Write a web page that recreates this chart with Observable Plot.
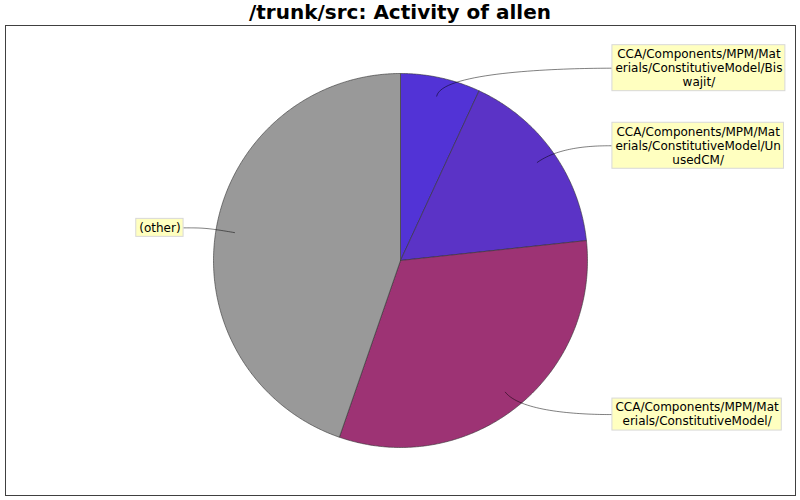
<!DOCTYPE html>
<html><head><meta charset="utf-8">
<script src="https://cdn.jsdelivr.net/npm/d3@7"></script>
<script src="https://cdn.jsdelivr.net/npm/@observablehq/plot@0.6"></script>
<style>
body{margin:0;background:#fff;}
#title{width:800px;height:22px;box-sizing:border-box;padding-top:2px;font:bold 20px "DejaVu Sans";line-height:20px;text-align:center;white-space:nowrap;color:#000;}
</style></head><body>
<div id="title">/trunk/src: Activity of allen</div>
<div id="chart"></div>
<script>
// Data
const categories = [
  "CCA/Components/MPM/Materials/ConstitutiveModel/Biswajit/",
  "CCA/Components/MPM/Materials/ConstitutiveModel/UnusedCM/",
  "CCA/Components/MPM/Materials/ConstitutiveModel/",
  "(other)"
];
const values = [6.9, 16.4, 32.0, 44.7];
const colors = ["#5233D6", "#5B33C6", "#9D3374", "#999999"];
const labelLines = [
  ["CCA/Components/MPM/Mat", "erials/ConstitutiveModel/Bis", "wajit/"],
  ["CCA/Components/MPM/Mat", "erials/ConstitutiveModel/Un", "usedCM/"],
  ["CCA/Components/MPM/Mat", "erials/ConstitutiveModel/"],
  ["(other)"]
];

// Layout
const W = 800, H = 478, CX = 400, CY = 238, RPX = 187;
const LINK = 0.9, ELB = 1.053, LINE = 14 / RPX, PAD = 6;

const arcs = d3.pie().sort(null).value(d => d)(values);
const slices = [];
arcs.forEach((a, i) => {
  const name = categories[i];
  slices.push({name, x: 0, y: 0});
  const n = Math.max(2, Math.ceil((a.endAngle - a.startAngle) / (Math.PI / 360)));
  for (let k = 0; k <= n; k++) {
    const t = a.startAngle + (a.endAngle - a.startAngle) * k / n;
    slices.push({name, x: Math.sin(t), y: Math.cos(t)});
  }
  slices.push({name, x: 0, y: 0});
});

const ctx = document.createElement("canvas").getContext("2d");
ctx.font = '12px "DejaVu Sans"';
const boxes = [], texts = [], links = [];
arcs.forEach((a, i) => {
  const m = (a.startAngle + a.endAngle) / 2, s = Math.sin(m), c = Math.cos(m), right = s >= 0;
  const lines = labelLines[i];
  const w = (d3.max(lines, l => ctx.measureText(l).width) + PAD) / RPX;
  const h = (lines.length * 14 + 4) / RPX;
  const yL = c * ELB;
  const tx = right ? ELB + 15 / RPX : -ELB - 20 / RPX;
  const x1 = right ? tx : tx - w, x2 = right ? tx + w : tx;
  boxes.push({name: categories[i], x1, x2, y1: yL - h / 2, y2: yL + h / 2});
  lines.forEach((l, j) => texts.push({text: l, x: (x1 + x2) / 2, y: yL + ((lines.length - 1) / 2 - j) * LINE}));
  const P0 = [tx, yL], C1 = [right ? ELB : -ELB, c * ELB], C2 = [s * ELB, c * ELB], P3 = [s * LINK, c * LINK];
  for (let k = 0; k <= 40; k++) {
    const t = k / 40, u = 1 - t;
    const b = [u * u * u, 3 * u * u * t, 3 * u * t * t, t * t * t];
    links.push({
      name: categories[i],
      x: b[0] * P0[0] + b[1] * C1[0] + b[2] * C2[0] + b[3] * P3[0],
      y: b[0] * P0[1] + b[1] * C1[1] + b[2] * C2[1] + b[3] * P3[1]
    });
  }
});

const chart = Plot.plot({
  width: W, height: H,
  marginLeft: 5, marginRight: 5, marginTop: 3, marginBottom: 5,
  x: {domain: [-1, 1], range: [CX - RPX, CX + RPX], axis: null},
  y: {domain: [-1, 1], range: [CY + RPX, CY - RPX], axis: null},
  color: {domain: categories, range: colors},
  style: {fontFamily: "DejaVu Sans", background: "#fff", color: "#000"},
  marks: [
    Plot.frame({stroke: "#404040", strokeWidth: 1}),
    Plot.line(slices, {x: "x", y: "y", z: "name", fill: "name", stroke: "#333", strokeWidth: 0.6}),
    Plot.line(links, {x: "x", y: "y", z: "name", stroke: "#000", strokeWidth: 0.5}),
    Plot.rect(boxes, {x1: "x1", x2: "x2", y1: "y1", y2: "y2", fill: "#FFFFC0", stroke: "#D8D8D8"}),
    Plot.text(texts, {x: "x", y: "y", text: "text", fontSize: 12, fill: "#000"})
  ]
});
document.getElementById("chart").appendChild(chart);
</script>
</body></html>
